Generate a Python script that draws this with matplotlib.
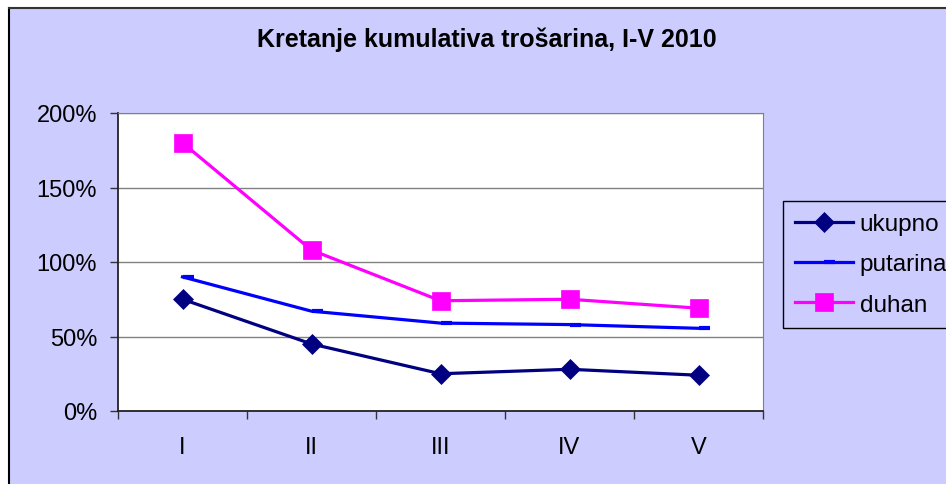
import matplotlib.pyplot as plt
from matplotlib.patches import Rectangle
from matplotlib.lines import Line2D

# podaci
mjeseci = ['I', 'II', 'III', 'IV', 'V']
ukupno = [75, 45, 25, 28, 24]
putarina = [90, 67, 59, 58, 55.5]
duhan = [180, 108, 74, 75, 69]

plt.rcParams['font.family'] = ['Liberation Sans', 'DejaVu Sans']

W, H = 946, 485
fig = plt.figure(figsize=(W / 100, H / 100), dpi=100, facecolor='white')

# pozadina grafikona s okvirom
fig.add_artist(Rectangle((9 / W, 0), 1, 1 - 9 / H, transform=fig.transFigure,
                         facecolor='#CCCCFF', edgecolor='none', zorder=0))
fig.add_artist(Line2D([9 / W, 9 / W], [0, 1 - 9 / H], transform=fig.transFigure,
                      color='black', lw=1.5))
fig.add_artist(Line2D([9 / W, 1], [1 - 9 / H, 1 - 9 / H], transform=fig.transFigure,
                      color='#333333', lw=1.5))

ax = fig.add_axes([118 / W, 1 - 412 / H, (763 - 118) / W, (412 - 114) / H])
ax.set_facecolor('white')

x = range(len(mjeseci))
crtica = [(0, 0), (1, 0)]
ax.plot(x, ukupno, color='#000080', lw=2.3, marker='D', markersize=10,
        markeredgewidth=0.5, label='ukupno', zorder=3)
ax.plot(x, putarina, color='#0000FF', lw=2.3, marker=crtica, markersize=16,
        markeredgewidth=3, label='putarina', zorder=3)
ax.plot(x, duhan, color='#FF00FF', lw=2.3, marker='s', markersize=13,
        markeredgewidth=0.5, label='duhan', zorder=3)

ax.set_xlim(-0.5, 4.5)
ax.set_ylim(0, 200)
ax.set_yticks([0, 50, 100, 150, 200])
ax.set_yticklabels(['0%', '50%', '100%', '150%', '200%'], fontsize=17)
ax.set_xticks([i - 0.5 for i in range(6)])
ax.set_xticklabels([])
ax.set_xticks(list(x), minor=True)
ax.set_xticklabels(mjeseci, minor=True, fontsize=17)
ax.tick_params(axis='x', which='major', direction='out', length=6, width=1, color='#333333')
ax.tick_params(axis='x', which='minor', length=0, pad=18)
ax.tick_params(axis='y', direction='out', length=6, width=1, color='#333333', pad=9)
ax.grid(axis='y', color='#808080', lw=1)
ax.set_axisbelow(True)

for s in ['left', 'bottom']:
    ax.spines[s].set_color('#222222')
    ax.spines[s].set_linewidth(1.3)
ax.spines['right'].set_color('#808080')
ax.spines['top'].set_color('#808080')

fig.text(487 / W, 1 - 47 / H, 'Kretanje kumulativa trošarina, I-V 2010',
         ha='center', va='baseline', fontsize=18, fontweight='bold')

leg = fig.legend(loc='upper left', bbox_to_anchor=(783 / W, 1 - 202 / H),
                 bbox_transform=fig.transFigure, fontsize=17.5, frameon=True,
                 fancybox=False, edgecolor='black', facecolor='#CCCCFF',
                 framealpha=1, handlelength=2.4, handletextpad=0.25,
                 labelspacing=0.75, borderpad=0.5, borderaxespad=0)
leg.get_frame().set_linewidth(1)

fig.savefig('out.png', dpi=100)
